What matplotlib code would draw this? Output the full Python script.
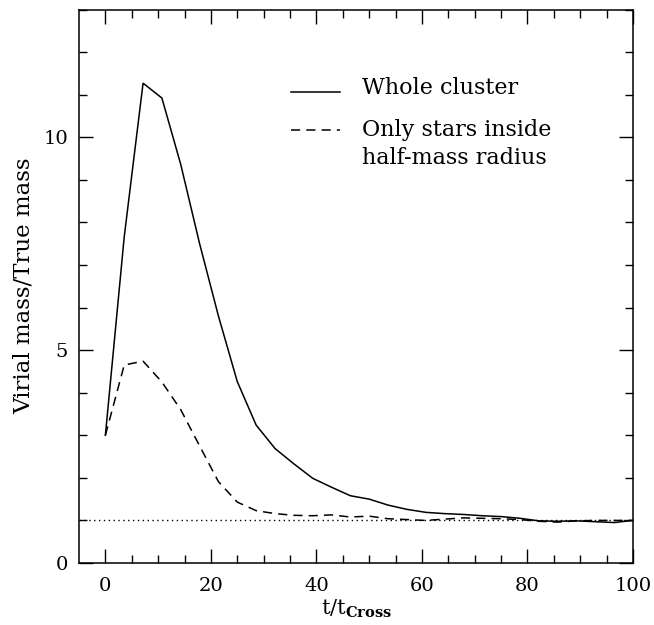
import numpy as np
import matplotlib
matplotlib.use("Agg")
import matplotlib.pyplot as plt

plt.rcParams['font.family'] = ['DejaVu Serif']
plt.rcParams['mathtext.fontset'] = 'dejavuserif'

# time in units of crossing time (29 snapshots)
t = np.linspace(0, 100, 29)
whole_cluster = [3.0, 7.66, 11.27, 10.92, 9.36, 7.5, 5.8, 4.26, 3.24, 2.69, 2.33,
                 1.99, 1.78, 1.58, 1.50, 1.36, 1.26, 1.19, 1.16, 1.14, 1.11,
                 1.09, 1.05, 0.99, 0.98, 0.99, 0.97, 0.95, 1.0]
half_mass = [3.0, 4.65, 4.74, 4.25, 3.6, 2.75, 1.91, 1.43, 1.23, 1.16, 1.12,
             1.11, 1.13, 1.08, 1.10, 1.04, 1.02, 1.0, 1.03, 1.06, 1.05,
             1.04, 1.02, 0.98, 0.96, 0.99, 1.0, 1.0, 1.0]
true_ratio = 1.0

labels = ["Whole cluster", "Only stars inside\nhalf-mass radius"]

fig = plt.figure(figsize=(6.54, 6.25), dpi=100)
ax = fig.add_axes([79/654, 1-563/625, (633-79)/654, (563-9.5)/625])

lw = 1.1
ax.plot(t, whole_cluster, color='black', lw=lw, solid_joinstyle='miter')
ax.plot(t, half_mass, color='black', lw=lw, linestyle=(0, (6, 4)))
ax.axhline(true_ratio, color='black', lw=1.0, linestyle=(0, (1, 2.5)))

ax.set_xlim(-5, 100)
ax.set_ylim(0, 13)
ax.set_xticks([0, 20, 40, 60, 80, 100])
ax.set_xticks(np.arange(0, 101, 5), minor=True)
ax.set_yticks([0, 5, 10])
ax.set_yticks(np.arange(0, 14, 1), minor=True)
ax.tick_params(which='both', direction='in', top=True, right=True, width=1.0)
ax.tick_params(which='major', length=10, labelsize=14)
ax.tick_params(which='minor', length=5.5)
ax.tick_params(axis='x', which='major', pad=10)
ax.tick_params(axis='y', which='major', pad=8)
for s in ax.spines.values():
    s.set_linewidth(1.1)

ax.set_xlabel(r"$\mathrm{t/t}_{\mathbf{Cross}}$", fontsize=15, labelpad=2)
ax.set_ylabel("Virial mass/True mass", fontsize=16.5, labelpad=6)

# legend drawn as in the original
tr = ax.transAxes
def fx(px):
    return (px - 79) / (633 - 79)
def fy(py):
    return (563 - py) / (563 - 9.5)
ax.plot([fx(291), fx(340)], [fy(92), fy(92)], color='black', lw=lw, transform=tr)
ax.plot([fx(291), fx(340)], [fy(130), fy(130)], color='black', lw=lw,
        linestyle=(0, (6, 4)), transform=tr)
ax.text(fx(362), fy(88), labels[0], transform=tr, fontsize=16, va='center', ha='left')
ax.text(fx(362), fy(144), labels[1], transform=tr, fontsize=16, va='center', ha='left',
        linespacing=1.35)

fig.savefig("out.png", dpi=100)
